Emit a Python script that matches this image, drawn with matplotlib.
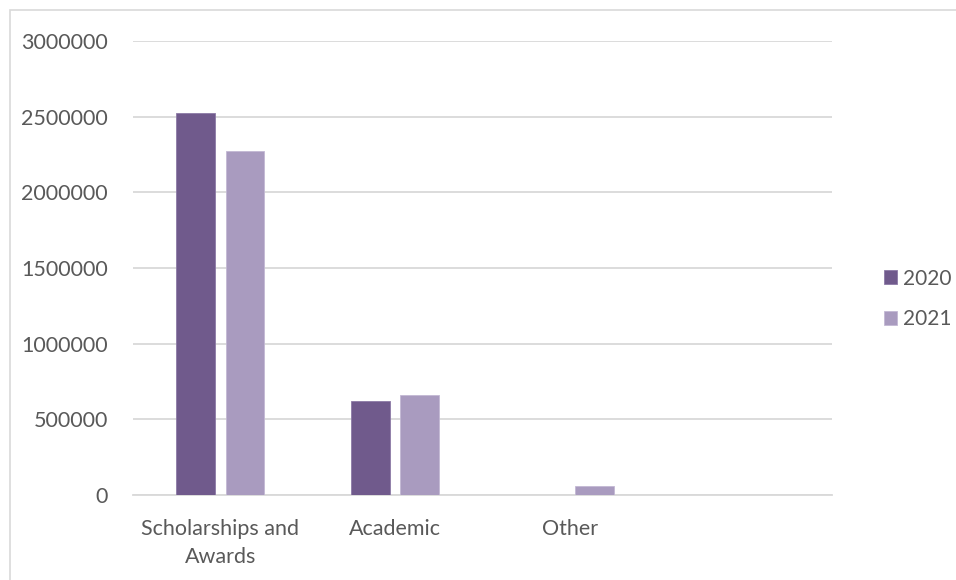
import matplotlib.pyplot as plt
from matplotlib.patches import Rectangle
import numpy as np

# data
categories = ["Scholarships and\nAwards", "Academic", "Other", ""]
values_2020 = [2525000, 623000, 0, 0]
values_2021 = [2270000, 663000, 61000, 0]
yticks = [0, 500000, 1000000, 1500000, 2000000, 2500000, 3000000]

c2020 = "#705a8c"
c2021 = "#a99bbf"
txt = "#595959"

plt.rcParams['font.family'] = ['Lato', 'DejaVu Sans']

fig = plt.figure(figsize=(9.56, 5.8), dpi=100)
ax = fig.add_axes([133/956, 85/580, 699/956, 454/580])

x = np.arange(len(categories))
w = 0.223
off = 0.141
ax.bar(x - off, values_2020, w, color=c2020, edgecolor="#8d7aa6", linewidth=0.6, label="2020", zorder=3)
ax.bar(x + off, values_2021, w, color=c2021, edgecolor="#c3b8d4", linewidth=0.6, label="2021", zorder=3)

ax.set_xlim(-0.5, len(categories) - 0.5)
ax.set_ylim(0, 3000000)
ax.set_yticks(yticks)
ax.set_yticklabels([str(v) for v in yticks])
ax.set_xticks(x)
ax.set_xticklabels(categories, linespacing=1.55)
ax.tick_params(axis='y', length=0, pad=18, labelsize=15.5, labelcolor=txt)
ax.tick_params(axis='x', length=0, pad=17, labelsize=15.5, labelcolor=txt)
ax.grid(axis='y', color="#d9d9d9", linewidth=1.3, zorder=0)
for s in ["top", "right", "left"]:
    ax.spines[s].set_visible(False)
ax.spines["bottom"].set_color("#d9d9d9")
ax.spines["bottom"].set_linewidth(1.3)

leg = ax.legend(loc="center left", bbox_to_anchor=(865/956, 1 - 299/580),
                bbox_transform=fig.transFigure, frameon=False,
                handlelength=0.65, handleheight=0.65, handletextpad=0.25,
                labelspacing=1.0, fontsize=15)
for t in leg.get_texts():
    t.set_color(txt)

# light chart border (cropped at right/bottom)
fig.patches.append(Rectangle((10/956, -0.1), 1.2, 1 - 10/580 + 0.1,
                             transform=fig.transFigure, fill=False,
                             edgecolor="#d9d9d9", linewidth=1.2))

fig.savefig("out.png", dpi=100)
